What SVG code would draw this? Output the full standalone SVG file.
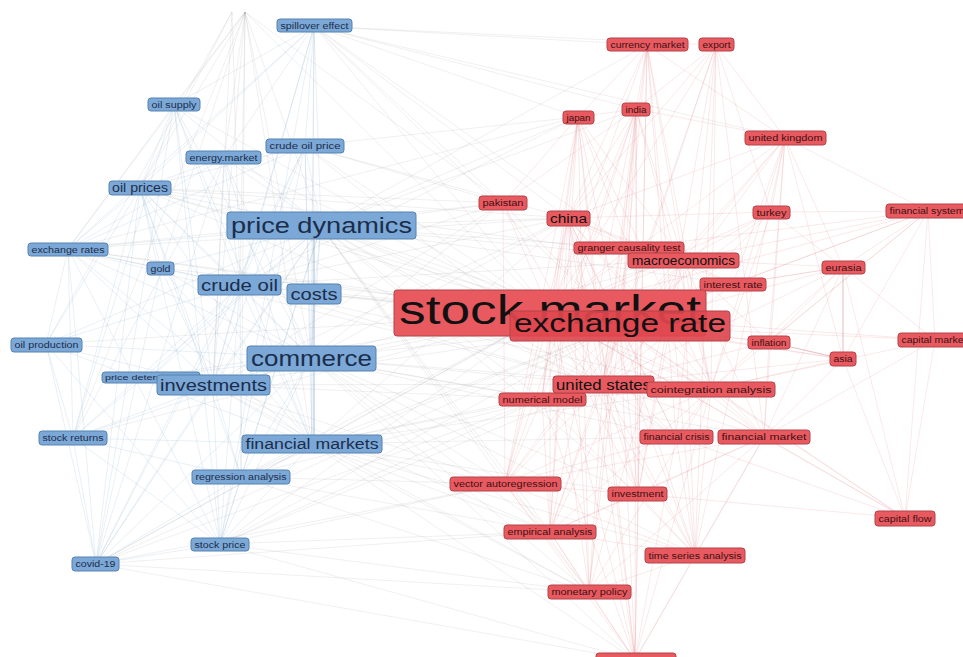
<svg xmlns="http://www.w3.org/2000/svg" width="963" height="657" viewBox="0 0 963 657">
<style>
.e path{fill:none;stroke-width:0.8}
.eb{stroke:#7fa6cc;stroke-opacity:0.22}
.eg{stroke:#8c8c8c;stroke-opacity:0.17}
.er{stroke:#d9606a;stroke-opacity:0.18}
.b rect{fill:#7ba8d6;stroke:#5683b2;stroke-width:1}
.r rect{fill:#e85a60;stroke:#b4434a;stroke-width:1}
text{font-family:"Liberation Sans",Arial,sans-serif;text-anchor:middle}
.b text{fill:#1b2d4a}
.r text{fill:#3d1012}
.r text.big{fill:#111}
.s{font-size:8.5px}
</style>
<rect width="963" height="657" fill="#fff"/>
<g id="connectors" class="e">
<path class="eb" d="M321 226L314 26M321 226L174 105M321 226L305 146M321 226L224 158M321 226L140 188M321 226L68 249M321 226L161 268M321 226L240 285M321 226L314 294M321 226L46 344M321 226L311 358M321 226L151 377M321 226L213 385M321 226L73 438M321 226L241 477M321 226L220 544M321 226L96 564
M311 358L314 26M311 358L174 105M311 358L305 146M311 358L224 158M311 358L140 188M311 358L68 249M311 358L161 268M311 358L240 285M311 358L314 294M311 358L46 344M311 358L151 377M311 358L213 385M311 358L73 438M311 358L312 444M311 358L241 477M311 358L220 544M311 358L96 564
M240 285L314 26M240 285L174 105M240 285L305 146M240 285L224 158M240 285L140 188M240 285L68 249M240 285L161 268M240 285L46 344M240 285L213 385M240 285L73 438M240 285L312 444M240 285L241 477M240 285L220 544M240 285L96 564M240 285L151 377
M213 385L314 26M213 385L174 105M213 385L305 146M213 385L224 158M213 385L140 188M213 385L68 249M213 385L161 268M213 385L46 344M213 385L73 438M213 385L312 444M213 385L241 477M213 385L220 544M213 385L96 564
M312 444L314 26M312 444L174 105M312 444L305 146M312 444L224 158M312 444L140 188M312 444L68 249M312 444L161 268M312 444L46 344M312 444L73 438M312 444L241 477M312 444L220 544M312 444L96 564
M140 188L174 105M140 188L224 158M140 188L68 249M140 188L161 268M140 188L46 344M140 188L73 438M140 188L220 544M140 188L96 564M140 188L241 477M140 188L305 146M140 188L314 26
M96 564L68 249M96 564L46 344M96 564L73 438M96 564L220 544M96 564L241 477M96 564L161 268M96 564L224 158M96 564L174 105M96 564L305 146
M220 544L73 438M220 544L241 477M220 544L68 249M220 544L46 344M220 544L314 26M220 544L305 146M220 544L174 105
M314 26L305 146M314 26L224 158M314 26L174 105M314 26L68 249
M68 249L161 268M68 249L46 344M68 249L73 438M68 249L174 105M68 249L224 158M68 249L305 146
M73 438L46 344M73 438L241 477M73 438L174 105M73 438L224 158"/>
<path d="M314 238L314 436" stroke="#8fb1d3" stroke-width="1.6" fill="none"/>
<path class="eg" d="M550 313L314 26M550 313L174 105M550 313L305 146M550 313L224 158M550 313L140 188M550 313L321 226M550 313L68 249M550 313L161 268M550 313L240 285M550 313L314 294M550 313L46 344M550 313L311 358M550 313L151 377M550 313L213 385M550 313L73 438M550 313L312 444M550 313L241 477M550 313L220 544M550 313L96 564
M620 326L321 226M620 326L311 358M620 326L240 285M620 326L213 385M620 326L312 444M620 326L314 294M620 326L140 188M620 326L241 477M620 326L220 544M620 326L96 564M620 326L314 26M620 326L68 249
M321 226L603 384M321 226L568 218M321 226L683 260M321 226L711 389M321 226L505 484M321 226L550 532M321 226L589 592M321 226L542 399M321 226L503 203M321 226L578 117M321 226L636 109M321 226L647 45M321 226L629 248M321 226L733 284M321 226L676 437M321 226L638 494
M311 358L603 384M311 358L568 218M311 358L683 260M311 358L711 389M311 358L505 484M311 358L550 532M311 358L589 592M311 358L542 399M311 358L676 437M311 358L638 494M311 358L695 555M311 358L503 203M311 358L764 437M311 358L635 660
M312 444L603 384M312 444L505 484M312 444L550 532M312 444L589 592M312 444L542 399M312 444L676 437M312 444L638 494M312 444L711 389M312 444L695 555M312 444L635 660M312 444L568 218
M213 385L603 384M213 385L505 484M213 385L550 532M213 385L542 399M213 385L568 218M213 385L503 203M213 385L589 592
M240 285L568 218M240 285L603 384M240 285L683 260M240 285L503 203M240 285L578 117M240 285L711 389
M220 544L505 484M220 544L550 532M220 544L589 592M220 544L542 399M220 544L603 384M220 544L635 660
M96 564L505 484M96 564L550 532M96 564L589 592M96 564L542 399M96 564L635 660
M241 477L505 484M241 477L542 399M241 477L550 532M241 477L589 592
M314 26L647 45M314 26L716 45M314 26L578 117M314 26L636 109M314 26L503 203M314 26L568 218M314 26L629 248M314 26L785 138
M305 146L503 203M305 146L568 218M305 146L578 117M305 146L603 384
M140 188L503 203M140 188L568 218M140 188L603 384M140 188L683 260
M68 249L568 218M68 249L603 384M68 249L503 203M68 249L578 117
M245 12L140 188M245 12L321 226M245 12L240 285M245 12L311 358M245 12L213 385M245 12L312 444M245 12L174 105M245 12L224 158M245 12L161 268M245 12L550 313M245 12L503 203M245 12L68 249M245 12L73 438M245 12L241 477
M232 12L140 188M232 12L240 285M232 12L213 385M232 12L46 344"/>
<path class="er" d="M550 313L647 45M550 313L716 45M550 313L636 109M550 313L578 117M550 313L785 138M550 313L503 203M550 313L568 218M550 313L771 212M550 313L928 211M550 313L629 248M550 313L683 260M550 313L843 267M550 313L733 284M550 313L769 342M550 313L935 340M550 313L843 359M550 313L603 384M550 313L711 389M550 313L542 399M550 313L676 437M550 313L764 437M550 313L505 484M550 313L638 494M550 313L905 518M550 313L550 532M550 313L695 555M550 313L589 592M550 313L635 660
M620 326L647 45M620 326L716 45M620 326L636 109M620 326L578 117M620 326L785 138M620 326L503 203M620 326L568 218M620 326L771 212M620 326L928 211M620 326L629 248M620 326L683 260M620 326L843 267M620 326L733 284M620 326L769 342M620 326L935 340M620 326L843 359M620 326L603 384M620 326L711 389M620 326L542 399M620 326L676 437M620 326L764 437M620 326L505 484M620 326L638 494M620 326L905 518M620 326L550 532M620 326L695 555M620 326L589 592M620 326L635 660
M603 384L647 45M603 384L716 45M603 384L636 109M603 384L578 117M603 384L785 138M603 384L568 218M603 384L771 212M603 384L629 248M603 384L683 260M603 384L843 267M603 384L733 284M603 384L769 342M603 384L843 359M603 384L711 389M603 384L676 437M603 384L764 437M603 384L505 484M603 384L638 494M603 384L550 532M603 384L695 555M603 384L589 592M603 384L635 660M603 384L503 203M603 384L542 399
M568 218L647 45M568 218L716 45M568 218L636 109M568 218L578 117M568 218L785 138M568 218L771 212M568 218L629 248M568 218L683 260M568 218L733 284M568 218L711 389M568 218L676 437M568 218L764 437M568 218L505 484M568 218L638 494M568 218L550 532M568 218L695 555M568 218L589 592M568 218L635 660M568 218L542 399
M683 260L647 45M683 260L636 109M683 260L578 117M683 260L785 138M683 260L771 212M683 260L928 211M683 260L843 267M683 260L733 284M683 260L769 342M683 260L711 389M683 260L764 437M683 260L505 484M683 260L638 494M683 260L550 532M683 260L695 555M683 260L589 592
M711 389L647 45M711 389L716 45M711 389L636 109M711 389L578 117M711 389L785 138M711 389L771 212M711 389L928 211M711 389L843 267M711 389L843 359M711 389L935 340M711 389L676 437M711 389L764 437M711 389L505 484M711 389L550 532M711 389L695 555M711 389L589 592M711 389L635 660M711 389L542 399
M843 267L928 211M843 267L771 212M843 267L785 138M843 267L935 340M843 267L769 342M843 267L733 284M843 267L764 437M843 267L905 518
M928 211L935 340M928 211L905 518M928 211L771 212M928 211L785 138M928 211L733 284M928 211L769 342M928 211L843 359M928 211L629 248
M905 518L935 340M905 518L764 437M905 518L676 437M905 518L638 494M905 518L843 359M905 518L711 389
M635 660L589 592M635 660L550 532M635 660L505 484M635 660L638 494M635 660L695 555M635 660L542 399M635 660L636 109M635 660L578 117M635 660L647 45M635 660L764 437M635 660L676 437
M647 45L636 109M647 45L578 117M647 45L785 138M647 45L638 494M647 45L695 555M647 45L676 437
M716 45L636 109M716 45L785 138M716 45L771 212M716 45L695 555M716 45L764 437M716 45L638 494M716 45L676 437
M578 117L636 109M578 117L505 484M578 117L550 532M578 117L542 399M578 117L629 248M578 117L503 203M578 117L589 592
M636 109L505 484M636 109L550 532M636 109L542 399M636 109L629 248M636 109L638 494M636 109L503 203M636 109L589 592M636 109L785 138
M785 138L771 212M785 138L769 342M785 138L843 359M785 138L764 437M785 138L695 555M785 138L733 284
M764 437L505 484M764 437L550 532M764 437L695 555M764 437L638 494M764 437L589 592M764 437L676 437M764 437L769 342M764 437L843 359M764 437L935 340
M505 484L550 532M505 484L589 592M505 484L542 399M505 484L638 494M505 484L676 437M505 484L695 555M505 484L503 203
M550 532L589 592M550 532L695 555M550 532L638 494M550 532L542 399
M695 555L589 592M695 555L638 494M695 555L676 437M695 555L542 399"/>
<path d="M769 342L843 359M843 267L843 359" stroke="#c9737a" stroke-opacity="0.6" stroke-width="1" fill="none"/>
</g>
<g id="n-spillover-effect" class="b"><rect x="277" y="19" width="75" height="13" rx="3"/><text class="s" x="314.5" y="28.5" textLength="68" lengthAdjust="spacingAndGlyphs">spillover effect</text></g>
<g id="n-oil-supply" class="b"><rect x="148" y="98" width="52" height="13" rx="3"/><text class="s" x="174" y="107.5" textLength="45" lengthAdjust="spacingAndGlyphs">oil supply</text></g>
<g id="n-crude-oil-price" class="b"><rect x="266" y="139" width="78" height="14" rx="3"/><text class="s" x="305" y="149" textLength="71" lengthAdjust="spacingAndGlyphs">crude oil price</text></g>
<g id="n-energy-market" class="b"><rect x="186" y="151" width="75" height="13" rx="3"/><text class="s" x="223.5" y="160.5" textLength="68" lengthAdjust="spacingAndGlyphs">energy.market</text></g>
<g id="n-oil-prices" class="b"><rect x="109" y="181" width="62" height="14" rx="3"/><text x="140" y="192" font-size="12" textLength="56" lengthAdjust="spacingAndGlyphs">oil prices</text></g>
<g id="n-price-dynamics" class="b"><rect x="227" y="212" width="189" height="27" rx="3"/><text x="321.5" y="233" font-size="22" textLength="181" lengthAdjust="spacingAndGlyphs">price dynamics</text></g>
<g id="n-exchange-rates" class="b"><rect x="28" y="243" width="80" height="13" rx="3"/><text class="s" x="68" y="252.5" textLength="73" lengthAdjust="spacingAndGlyphs">exchange rates</text></g>
<g id="n-gold" class="b"><rect x="147" y="262" width="27" height="13" rx="3"/><text class="s" x="160.5" y="271.5" textLength="20" lengthAdjust="spacingAndGlyphs">gold</text></g>
<g id="n-crude-oil" class="b"><rect x="198" y="275" width="83" height="20" rx="3"/><text x="239.5" y="290.5" font-size="16" textLength="77" lengthAdjust="spacingAndGlyphs">crude oil</text></g>
<g id="n-costs" class="b"><rect x="287" y="284" width="54" height="20" rx="3"/><text x="314" y="299.5" font-size="16" textLength="47" lengthAdjust="spacingAndGlyphs">costs</text></g>
<g id="n-oil-production" class="b"><rect x="11" y="338" width="71" height="14" rx="3"/><text class="s" x="46.5" y="348" textLength="64" lengthAdjust="spacingAndGlyphs">oil production</text></g>
<g id="n-commerce" class="b"><rect x="247" y="346" width="129" height="25" rx="3"/><text x="311.5" y="365.5" font-size="22" textLength="121" lengthAdjust="spacingAndGlyphs">commerce</text></g>
<g id="n-price-determination" class="b"><rect x="102" y="372" width="98" height="11" rx="3"/><text x="151" y="380" font-size="8" textLength="92" lengthAdjust="spacingAndGlyphs">price determination</text></g>
<g id="n-investments" class="b"><rect x="157" y="375" width="113" height="20" rx="3"/><text x="213.5" y="390.5" font-size="16" textLength="107" lengthAdjust="spacingAndGlyphs">investments</text></g>
<g id="n-stock-returns" class="b"><rect x="39" y="431" width="68" height="14" rx="3"/><text class="s" x="73" y="441" textLength="61" lengthAdjust="spacingAndGlyphs">stock returns</text></g>
<g id="n-financial-markets" class="b"><rect x="242" y="435" width="140" height="18" rx="3"/><text x="312" y="448.5" font-size="14" textLength="133" lengthAdjust="spacingAndGlyphs">financial markets</text></g>
<g id="n-regression-analysis" class="b"><rect x="192" y="470" width="98" height="14" rx="3"/><text class="s" x="241" y="480" textLength="91" lengthAdjust="spacingAndGlyphs">regression analysis</text></g>
<g id="n-stock-price" class="b"><rect x="191" y="538" width="58" height="13" rx="3"/><text class="s" x="220" y="547.5" textLength="51" lengthAdjust="spacingAndGlyphs">stock price</text></g>
<g id="n-covid-19" class="b"><rect x="72" y="557" width="47" height="14" rx="3"/><text class="s" x="95.5" y="567" textLength="40" lengthAdjust="spacingAndGlyphs">covid-19</text></g>
<g id="n-currency-market" class="r"><rect x="607" y="38" width="81" height="13" rx="3"/><text class="s" x="647.5" y="47.5" textLength="74" lengthAdjust="spacingAndGlyphs">currency market</text></g>
<g id="n-export" class="r"><rect x="699" y="38" width="35" height="13" rx="3"/><text class="s" x="716.5" y="47.5" textLength="28" lengthAdjust="spacingAndGlyphs">export</text></g>
<g id="n-india" class="r"><rect x="622" y="103" width="28" height="13" rx="3"/><text class="s" x="636" y="112.5" textLength="21" lengthAdjust="spacingAndGlyphs">india</text></g>
<g id="n-japan" class="r"><rect x="563" y="111" width="31" height="13" rx="3"/><text class="s" x="578.5" y="120.5" textLength="24" lengthAdjust="spacingAndGlyphs">japan</text></g>
<g id="n-united-kingdom" class="r"><rect x="745" y="131" width="81" height="14" rx="3"/><text class="s" x="785.5" y="141" textLength="74" lengthAdjust="spacingAndGlyphs">united kingdom</text></g>
<g id="n-pakistan" class="r"><rect x="479" y="196" width="48" height="14" rx="3"/><text class="s" x="503" y="206" textLength="41" lengthAdjust="spacingAndGlyphs">pakistan</text></g>
<g id="n-china" class="r"><rect x="547" y="211" width="43" height="15" rx="3"/><text class="big" x="568.5" y="222.5" font-size="12" textLength="37" lengthAdjust="spacingAndGlyphs">china</text></g>
<g id="n-turkey" class="r"><rect x="753" y="206" width="37" height="13" rx="3"/><text class="s" x="771.5" y="215.5" textLength="30" lengthAdjust="spacingAndGlyphs">turkey</text></g>
<g id="n-financial-system" class="r"><rect x="886" y="204" width="82" height="14" rx="3"/><text class="s" x="927" y="214" textLength="75" lengthAdjust="spacingAndGlyphs">financial system</text></g>
<g id="n-granger-causality-test" class="r"><rect x="574" y="242" width="110" height="12" rx="3"/><text class="s" x="629" y="251" textLength="103" lengthAdjust="spacingAndGlyphs">granger causality test</text></g>
<g id="n-macroeconomics" class="r"><rect x="628" y="253" width="111" height="15" rx="3"/><text class="big" x="683.5" y="264.5" font-size="12" textLength="103" lengthAdjust="spacingAndGlyphs">macroeconomics</text></g>
<g id="n-eurasia" class="r"><rect x="822" y="261" width="43" height="13" rx="3"/><text class="s" x="843.5" y="270.5" textLength="36" lengthAdjust="spacingAndGlyphs">eurasia</text></g>
<g id="n-interest-rate" class="r"><rect x="700" y="278" width="66" height="13" rx="3"/><text class="s" x="733" y="287.5" textLength="59" lengthAdjust="spacingAndGlyphs">interest rate</text></g>
<g id="n-stock-market" class="r"><rect x="394" y="290" width="312" height="46" rx="3"/><text class="big" x="550" y="324" font-size="40" textLength="302" lengthAdjust="spacingAndGlyphs">stock market</text></g>
<g id="n-exchange-rate" class="r"><rect x="510" y="311" width="220" height="30" rx="3" style="fill:#e0474e;fill-opacity:0.92"/><text class="big" x="620" y="332" font-size="26" textLength="212" lengthAdjust="spacingAndGlyphs">exchange rate</text></g>
<g id="n-inflation" class="r"><rect x="748" y="336" width="42" height="13" rx="3"/><text class="s" x="769" y="345.5" textLength="35" lengthAdjust="spacingAndGlyphs">inflation</text></g>
<g id="n-capital-market" class="r"><rect x="898" y="333" width="72" height="14" rx="3"/><text class="s" x="934" y="343" textLength="65" lengthAdjust="spacingAndGlyphs">capital market</text></g>
<g id="n-asia" class="r"><rect x="830" y="352" width="26" height="14" rx="3"/><text class="s" x="843" y="362" textLength="19" lengthAdjust="spacingAndGlyphs">asia</text></g>
<g id="n-numerical-model" class="r"><rect x="499" y="393" width="87" height="13" rx="3"/><text class="s" x="542.5" y="402.5" textLength="80" lengthAdjust="spacingAndGlyphs">numerical model</text></g>
<g id="n-united-states" class="r"><rect x="553" y="376" width="101" height="17" rx="3"/><text class="big" x="603.5" y="389.5" font-size="14" textLength="95" lengthAdjust="spacingAndGlyphs">united states</text></g>
<g id="n-cointegration-analysis" class="r"><rect x="647" y="382" width="128" height="15" rx="3"/><text class="s" x="711" y="392.5" textLength="121" lengthAdjust="spacingAndGlyphs">cointegration analysis</text></g>
<g id="n-financial-crisis" class="r"><rect x="640" y="430" width="73" height="14" rx="3"/><text class="s" x="676.5" y="440" textLength="66" lengthAdjust="spacingAndGlyphs">financial crisis</text></g>
<g id="n-financial-market" class="r"><rect x="718" y="430" width="92" height="14" rx="3"/><text class="s" x="764" y="440" textLength="85" lengthAdjust="spacingAndGlyphs">financial market</text></g>
<g id="n-vector-autoregression" class="r"><rect x="450" y="477" width="111" height="14" rx="3"/><text class="s" x="505.5" y="487" textLength="104" lengthAdjust="spacingAndGlyphs">vector autoregression</text></g>
<g id="n-investment" class="r"><rect x="608" y="487" width="59" height="14" rx="3"/><text class="s" x="637.5" y="497" textLength="52" lengthAdjust="spacingAndGlyphs">investment</text></g>
<g id="n-capital-flow" class="r"><rect x="875" y="511" width="60" height="15" rx="3"/><text class="s" x="905" y="521.5" textLength="53" lengthAdjust="spacingAndGlyphs">capital flow</text></g>
<g id="n-empirical-analysis" class="r"><rect x="504" y="525" width="92" height="14" rx="3"/><text class="s" x="550" y="535" textLength="85" lengthAdjust="spacingAndGlyphs">empirical analysis</text></g>
<g id="n-time-series-analysis" class="r"><rect x="645" y="548" width="100" height="15" rx="3"/><text class="s" x="695" y="558.5" textLength="93" lengthAdjust="spacingAndGlyphs">time series analysis</text></g>
<g id="n-monetary-policy" class="r"><rect x="548" y="585" width="83" height="14" rx="3"/><text class="s" x="589.5" y="595" textLength="76" lengthAdjust="spacingAndGlyphs">monetary policy</text></g>
<g id="n-bottom-cut" class="r"><rect x="596" y="653" width="80" height="14" rx="3"/></g>
</svg>
